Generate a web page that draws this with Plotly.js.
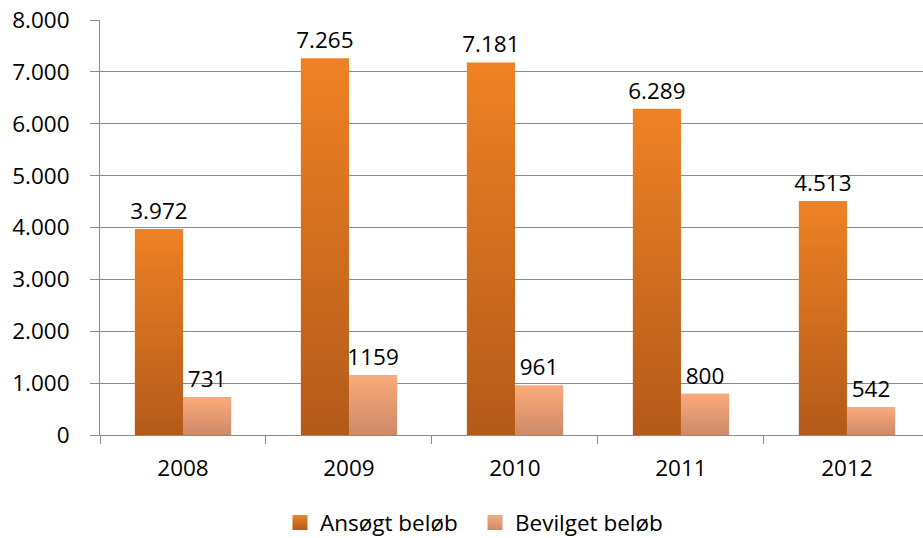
<!DOCTYPE html>
<html>
<head>
<meta charset="utf-8">
<script src="https://cdn.plot.ly/plotly-3.0.1.min.js"></script>
<style>
html,body{margin:0;padding:0;background:#fff;}
#chart{width:923px;height:538px;}
</style>
</head>
<body>
<div id="chart"></div>
<script>
var years = ["2008", "2009", "2010", "2011", "2012"];
var ansogt = [3972, 7265, 7181, 6289, 4513];
var bevilget = [731, 1159, 961, 800, 542];
var ansogtLabels = ["3.972", "7.265", "7.181", "6.289", "4.513"];
var bevilgetLabels = ["731", "1159", "961", "800", "542"];
var yTickVals = [0, 1000, 2000, 3000, 4000, 5000, 6000, 7000, 8000];
var yTickText = ["0", "1.000", "2.000", "3.000", "4.000", "5.000", "6.000", "7.000", "8.000"];

var FONT = "Open Sans, Noto Sans, sans-serif";
var FS = 22.5;

var traces = [
  {
    type: "bar", name: "Ansøgt beløb", x: years, y: ansogt,
    text: ansogtLabels, textposition: "outside", cliponaxis: false, constraintext: "none",
    textfont: {family: FONT, size: FS, color: "#000"},
    marker: {color: "#d56f1f"}, hoverinfo: "none"
  },
  {
    type: "bar", name: "Bevilget beløb", x: years, y: bevilget,
    text: bevilgetLabels, textposition: "outside", cliponaxis: false, constraintext: "none",
    textfont: {family: FONT, size: FS, color: "#000"},
    marker: {color: "#eb9a70"}, hoverinfo: "none"
  }
];

var layout = {
  width: 923, height: 538,
  margin: {l: 100, r: 0, t: 20, b: 103},
  paper_bgcolor: "#fff", plot_bgcolor: "#fff",
  font: {family: FONT, size: FS, color: "#000"},
  barmode: "group", bargap: 0.42, bargroupgap: 0,
  showlegend: true,
  legend: {orientation: "h", x: 0.2187, xanchor: "left", xref: "paper",
           y: 0.028, yanchor: "middle", yref: "container",
           entrywidth: 150, entrywidthmode: "pixels",
           font: {family: FONT, size: FS, color: "#000"}, itemwidth: 30, traceorder: "normal"},
  xaxis: {
    type: "category", range: [-0.5, 4.458], automargin: false,
    showline: true, linecolor: "#8c8c8c", linewidth: 1,
    ticks: "outside", tickson: "boundaries", ticklen: 8, tickcolor: "#8c8c8c",
    showgrid: false, tickfont: {family: FONT, size: FS, color: "#000"},
    ticklabelstandoff: 13
  },
  yaxis: {
    range: [0, 8000], tickvals: yTickVals, ticktext: yTickText, automargin: false,
    showline: true, linecolor: "#8c8c8c", linewidth: 1,
    ticks: "outside", ticklen: 9, tickcolor: "#8c8c8c",
    showgrid: true, gridcolor: "#8c8c8c", gridwidth: 1,
    zeroline: false, tickfont: {family: FONT, size: FS, color: "#000"},
    ticklabelstandoff: 16
  }
};

Plotly.newPlot("chart", traces, layout, {staticPlot: true}).then(function (gd) {
  var svg = gd.querySelector("svg.main-svg");
  var ns = "http://www.w3.org/2000/svg";
  var defs = document.createElementNS(ns, "defs");
  function grad(id, top, bottom) {
    var g = document.createElementNS(ns, "linearGradient");
    g.setAttribute("id", id);
    g.setAttribute("x1", "0"); g.setAttribute("y1", "0");
    g.setAttribute("x2", "0"); g.setAttribute("y2", "1");
    [[0, top], [1, bottom]].forEach(function (s) {
      var st = document.createElementNS(ns, "stop");
      st.setAttribute("offset", s[0]);
      st.setAttribute("stop-color", s[1]);
      g.appendChild(st);
    });
    defs.appendChild(g);
  }
  grad("gA", "#ef8224", "#b35a1a");
  grad("gB", "#fcaa7a", "#cd8a68");
  svg.insertBefore(defs, svg.firstChild);
  var ids = ["gA", "gB"];
  gd.querySelectorAll(".barlayer .trace").forEach(function (t, i) {
    t.querySelectorAll(".point path").forEach(function (p) { p.style.fill = "url(#" + ids[i] + ")"; });
  });
  gd.querySelectorAll(".legend .traces").forEach(function (t, i) {
    t.querySelectorAll(".legendpoints path").forEach(function (p) {
      p.style.fill = "url(#" + ids[i] + ")";
      p.setAttribute("d", "M7.5,7.5H-7.5V-7.5H7.5Z");
    });
  });
});
</script>
</body>
</html>
